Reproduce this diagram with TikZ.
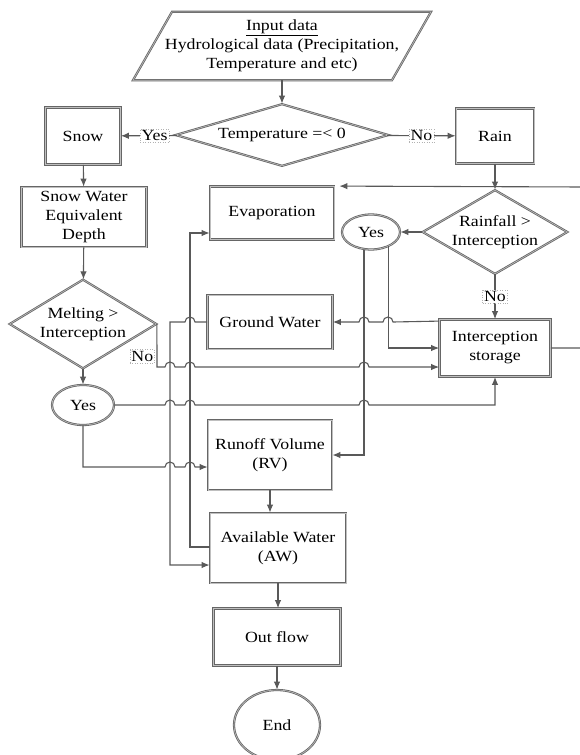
\documentclass[tikz,border=0pt]{standalone}
\usepackage{fontspec}
\setmainfont{Liberation Serif}[FakeStretch=1.15]
\usetikzlibrary{arrows.meta,shapes.geometric}
\tikzset{>={Latex[length=8pt,width=6.5pt]}}
\tikzstyle{block}=[rectangle,draw=black!60,line width=0.8pt,double=black!25,double distance=0.6pt,fill=white,align=center,inner sep=1pt]
\tikzstyle{decision}=[diamond,draw=black!60,line width=0.8pt,double=black!25,double distance=0.6pt,fill=white,align=center,inner sep=0pt]
\tikzstyle{answer}=[ellipse,draw=black!60,line width=0.8pt,double=black!25,double distance=0.6pt,fill=white,inner sep=1pt]
\tikzstyle{flow}=[draw=black!65,line width=1.1pt]
\tikzstyle{tag}=[fill=white,draw=black!30,dotted,line width=0.5pt,inner sep=1.5pt]

% little bridge where a horizontal line passes a vertical one
\newcommand{\hopright}[2]{-- (#1-5,#2) arc[start angle=180,end angle=0,radius=5pt]}
\newcommand{\hopleft}[2]{-- (#1+5,#2) arc[start angle=0,end angle=180,radius=5pt]}

\begin{document}
\begin{tikzpicture}[x=1pt,y=-1pt,font=\fontsize{15.5pt}{19pt}\selectfont]
	\useasboundingbox (0,0) rectangle (579,755);

	\node[minimum width=250pt,minimum height=68pt,align=center,inner sep=0pt] (input) at (282,46) {\underline{Input data}\\Hydrological data (Precipitation,\\Temperature and etc)};
	\draw[draw=black!60,line width=0.8pt,double=black!25,double distance=0.6pt] ([xshift=-110pt]input.north) -- ([xshift=149pt]input.north) -- ([xshift=110pt]input.south) -- ([xshift=-149pt]input.south) -- cycle;

	\node[decision,aspect=3.44,minimum width=213pt,minimum height=62pt] (temp) at (282,135) {Temperature =< 0};
	\node[block,minimum width=75pt,minimum height=57pt] (snow) at (83,136) {Snow};
	\node[block,minimum width=78pt,minimum height=55pt] (rain) at (495,136) {Rain};
	\node[block,minimum width=125pt,minimum height=60pt] (swe) at (84,217) {Snow Water\\Equivalent\\Depth};
	\node[decision,aspect=1.65,minimum width=147pt,minimum height=89pt] (melt) at (83,324) {Melting >\\Interception};
	\node[answer,minimum width=62pt,minimum height=40pt] (yesL) at (83,405) {Yes};
	\node[block,minimum width=124pt,minimum height=53pt] (evap) at (272,213) {Evaporation};
	\node[decision,aspect=1.73,minimum width=145pt,minimum height=84pt] (rainfall) at (495,232) {Rainfall >\\Interception};
	\node[answer,minimum width=58pt,minimum height=35pt] (yesR) at (371,232) {Yes};
	\node[block,minimum width=125pt,minimum height=54pt] (ground) at (270,322) {Ground Water};
	\node[block,minimum width=111pt,minimum height=57pt] (storage) at (495,348) {Interception\\storage};
	\node[block,minimum width=124pt,minimum height=70pt] (runoff) at (270,455) {Runoff Volume\\(RV)};
	\node[block,minimum width=136pt,minimum height=70pt] (avail) at (278,548) {Available Water\\(AW)};
	\node[block,minimum width=127pt,minimum height=57pt] (outflow) at (277,637) {Out flow};
	\node[answer,minimum width=86pt,minimum height=70pt] (end) at (277,725) {End};

	\draw[flow,->] (input) -- (temp);
	\draw[flow,->] (temp) -- node[tag,pos=0.4] {Yes} (snow);
	\draw[flow,->] (temp) -- node[tag] {No} (rain);
	\draw[flow,->] (snow) -- (swe);
	\draw[flow,->] (swe) -- (melt);
	\draw[flow,->] (melt) -- (yesL);
	\draw[flow,->] (rain) -- (rainfall);
	\draw[flow,->] (rainfall) -- (yesR);
	\draw[flow,->] (rainfall) -- node[tag] {No} (storage);
	\draw[flow,->] (runoff.south) -- (runoff.south |- avail.north);
	\draw[flow,->] (avail.south) -- (avail.south |- outflow.north);
	\draw[flow,->] (outflow) -- (end);

	% crossings
	\draw[flow,->] (melt.east) -- node[tag,pos=0.75,left=2pt] {No} (157,367) \hopright{170}{367} \hopright{190}{367} \hopright{364}{367} -- (storage.west |- 0,367);
	\draw[flow,->] (yesL.east) \hopright{170}{405} \hopright{190}{405} \hopright{364}{405} -| (storage.south);
	\draw[flow,->] (yesL.south) -- (83,467) \hopright{170}{467} \hopright{190}{467} -- (runoff.west |- 0,467);
	\draw[flow,->] ([xshift=-7pt]yesR.south) |- (runoff.east);
	\draw[flow,->] (yesR.-40) |- (storage.west);
	\draw[flow,->] ([yshift=-2pt]storage.north west) \hopleft{388}{322} \hopleft{364}{322} -- (ground.east);
	\draw[flow,->] (ground.west) \hopleft{190}{322} -- (170,322) -- (170,565) -- (avail.west |- 0,565);
	\draw[flow,->] (avail.west |- 0,547) -- (190,547) -- (190,233) -- (evap.west |- 0,233);
	\draw[flow,->] (storage.east) -| (584,187) -- ([xshift=5pt]evap.north east);
\end{tikzpicture}
\end{document}
